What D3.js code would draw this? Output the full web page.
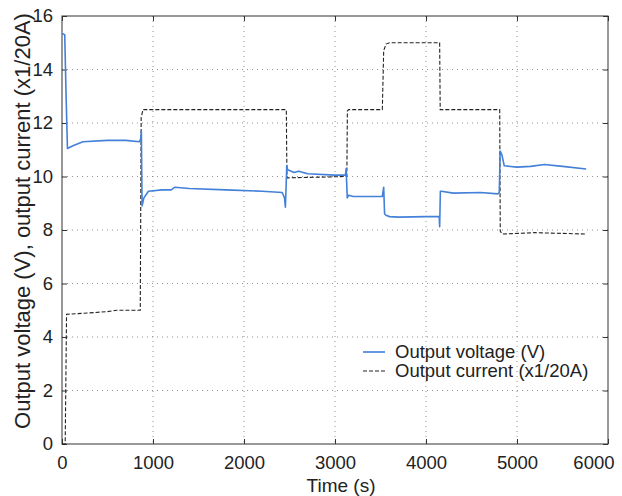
<!DOCTYPE html>
<html>
<head>
<meta charset="utf-8">
<script src="https://cdn.jsdelivr.net/npm/d3@7"></script>
<style>
  body { margin: 0; background: #fff; }
  text { font-family: "Liberation Sans", Arial, sans-serif; fill: #222; }
</style>
</head>
<body>
<svg id="chart" width="622" height="496"></svg>
<script>
var xTicks = [0, 1000, 2000, 3000, 4000, 5000, 6000],
    yTicks = [0, 2, 4, 6, 8, 10, 12, 14, 16];

// output voltage (V)
var voltTime = [0, 30, 45, 60, 120, 230, 500, 700, 850, 865, 872, 880, 900, 950, 1100, 1200, 1240, 1400, 1800, 2200, 2420, 2445, 2455, 2470, 2480, 2550, 2600, 2700, 3000, 3115, 3122, 3135, 3150, 3200, 3400, 3520, 3535, 3545, 3560, 3600, 3700, 4000, 4145, 4150, 4158, 4170, 4300, 4600, 4790, 4805, 4815, 4835, 4860, 5000, 5150, 5300, 5500, 5760],
    voltValue = [15.35, 15.3, 13.0, 11.05, 11.15, 11.3, 11.35, 11.35, 11.3, 11.4, 11.7, 8.9, 9.2, 9.45, 9.5, 9.5, 9.6, 9.55, 9.5, 9.45, 9.4, 9.2, 8.85, 10.4, 10.25, 10.15, 10.2, 10.1, 10.05, 10.05, 10.3, 9.2, 9.3, 9.25, 9.25, 9.25, 9.6, 8.6, 8.55, 8.5, 8.48, 8.5, 8.5, 8.12, 9.45, 9.45, 9.38, 9.4, 9.35, 9.4, 10.95, 10.8, 10.4, 10.35, 10.38, 10.45, 10.38, 10.28];

// output current (x1/20 A)
var currTime = [0, 35, 50, 300, 500, 600, 860, 870, 890, 1500, 2465, 2472, 2490, 3130, 3136, 3150, 3520, 3535, 3560, 3600, 4150, 4156, 4810, 4816, 4840, 5200, 5750],
    currValue = [0, 0, 4.85, 4.9, 4.95, 5.0, 5.0, 12.2, 12.5, 12.5, 12.5, 9.95, 9.95, 10.0, 12.45, 12.5, 12.5, 14.7, 14.95, 15.0, 15.0, 12.5, 12.5, 7.95, 7.85, 7.9, 7.85];

var svg = d3.select("#chart"),
    margin = {top: 16, right: 14, bottom: 52, left: 62},
    width = +svg.attr("width") - margin.left - margin.right,
    height = +svg.attr("height") - margin.top - margin.bottom;

var x = d3.scaleLinear().domain([0, 6000]).range([0, width]),
    y = d3.scaleLinear().domain([0, 16]).range([height, 0]);

var g = svg.append("g")
    .attr("transform", "translate(" + margin.left + "," + margin.top + ")");

// grid
g.selectAll(".vgrid").data(xTicks.slice(1, -1)).enter().append("line")
    .attr("x1", function(d) { return x(d); }).attr("x2", function(d) { return x(d); })
    .attr("y1", 0).attr("y2", height)
    .attr("stroke", "#777").attr("stroke-width", 0.8).attr("stroke-dasharray", "1,4");
g.selectAll(".hgrid").data(yTicks.slice(1, -1)).enter().append("line")
    .attr("y1", function(d) { return y(d); }).attr("y2", function(d) { return y(d); })
    .attr("x1", 0).attr("x2", width)
    .attr("stroke", "#777").attr("stroke-width", 0.8).attr("stroke-dasharray", "1,4");

// axes (ticks inward, box)
function styleAxis(sel) {
  sel.select(".domain").remove();
  sel.selectAll(".tick line").attr("stroke", "#333");
  sel.selectAll(".tick text").style("font-size", "18.5px").attr("fill", "#222");
}
var xAxis = g.append("g").attr("transform", "translate(0," + height + ")")
    .call(d3.axisBottom(x).tickValues(xTicks).tickFormat(d3.format("d")).tickSizeInner(-5).tickPadding(12))
    .call(styleAxis);
// last label pulled inside the picture, as in the original
xAxis.selectAll(".tick text").filter(function(d) { return d === 6000; })
    .attr("text-anchor", "end").attr("x", 6);
g.append("g")
    .call(d3.axisLeft(y).tickValues(yTicks).tickSizeInner(-5).tickPadding(9))
    .call(styleAxis);
g.append("g")
    .call(d3.axisTop(x).tickValues(xTicks).tickSizeInner(-5).tickFormat(""))
    .call(styleAxis);
g.append("g").attr("transform", "translate(" + width + ",0)")
    .call(d3.axisRight(y).tickValues(yTicks).tickSizeInner(-5).tickFormat(""))
    .call(styleAxis);
g.append("rect").attr("width", width).attr("height", height)
    .attr("fill", "none").attr("stroke", "#333").attr("stroke-width", 1);

var line = d3.line().x(function(d) { return x(d[0]); }).y(function(d) { return y(d[1]); });

g.append("path")
    .datum(d3.zip(currTime, currValue))
    .attr("d", line)
    .attr("fill", "none").attr("stroke", "#222").attr("stroke-width", 1.1)
    .attr("stroke-dasharray", "4,2");

g.append("path")
    .datum(d3.zip(voltTime, voltValue))
    .attr("d", line)
    .attr("fill", "none").attr("stroke", "#4380d8").attr("stroke-width", 1.6)
    .attr("stroke-linejoin", "round");

// legend
var legend = g.append("g").attr("transform", "translate(301,336)");
legend.append("line").attr("x1", 0).attr("x2", 22).attr("y1", 0).attr("y2", 0)
    .attr("stroke", "#4380d8").attr("stroke-width", 1.6);
legend.append("text").attr("x", 32).attr("y", 0).attr("dy", "0.35em")
    .style("font-size", "18.5px").text("Output voltage (V)");
legend.append("line").attr("x1", 0).attr("x2", 22).attr("y1", 19).attr("y2", 19)
    .attr("stroke", "#222").attr("stroke-width", 1.1).attr("stroke-dasharray", "4,2");
legend.append("text").attr("x", 32).attr("y", 19).attr("dy", "0.35em")
    .style("font-size", "18.5px").text("Output current (x1/20A)");

// axis labels
svg.append("text")
    .attr("x", 341).attr("y", 492)
    .attr("text-anchor", "middle").style("font-size", "19px")
    .text("Time (s)");
svg.append("text")
    .attr("transform", "translate(30,221) rotate(-90)")
    .attr("text-anchor", "middle").style("font-size", "22px")
    .text("Output voltage (V), output current (x1/20A)");
</script>
</body>
</html>
